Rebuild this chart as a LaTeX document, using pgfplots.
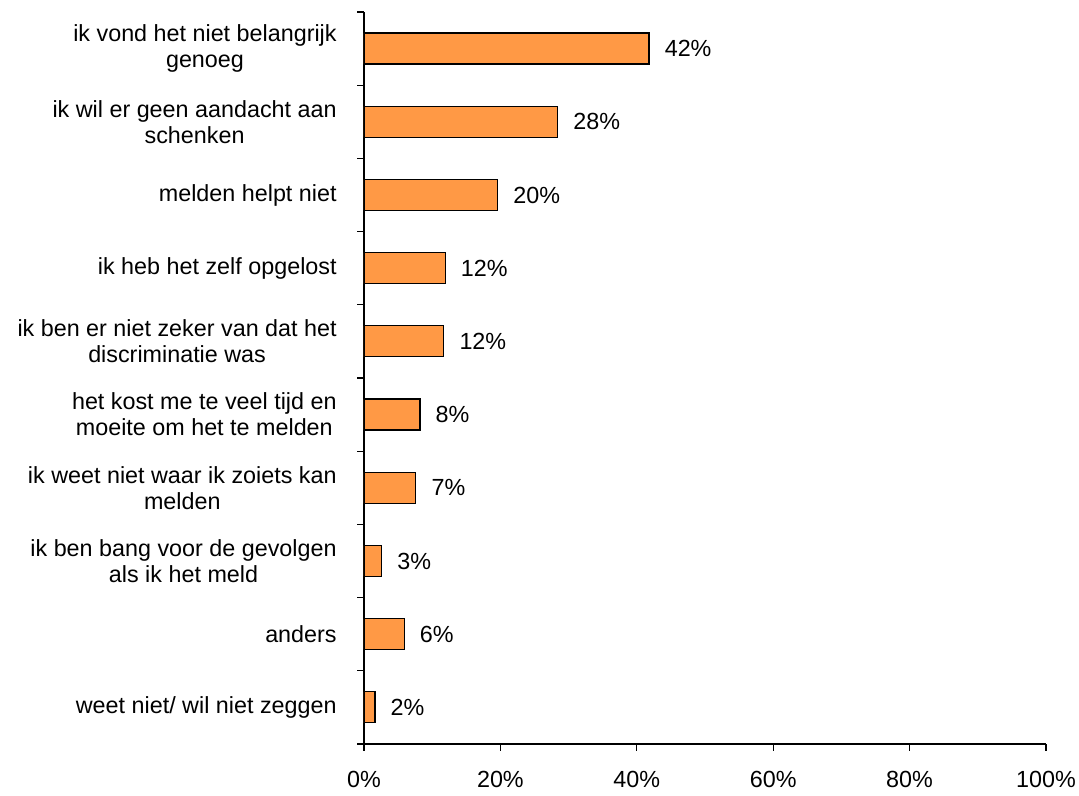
\documentclass[border=0pt]{standalone}
\usepackage{pgfplots}
\pgfplotsset{compat=1.18}
\usepackage{pgfplotstable}
\usepackage{fontspec}
\setmainfont{Liberation Sans}
\definecolor{barorange}{HTML}{FF9945}

% y = 9 is the top category
\pgfplotstableread{
y x lab
9 41.8 42
8 28.4 28
7 19.6 20
6 11.9 12
5 11.7 12
4 8.2 8
3 7.6 7
2 2.6 3
1 5.9 6
0 1.6 2
}\reasons

\begin{document}
\begin{tikzpicture}[font=\fontsize{17.5}{19.5}\selectfont]
\begin{axis}[
    scale only axis,
    width=511.5pt, height=549pt,
    xbar, bar width=23.25pt,
    xmin=0, xmax=100, ymin=-0.5, ymax=9.5,
    axis lines*=left,
    axis line style={line width=0.9pt},
    tick align=outside,
    major tick length=5pt, minor tick length=5pt,
    every tick/.style={black, line width=0.9pt},
    xtick={0,20,40,60,80,100},
    xticklabels={0\%,20\%,40\%,60\%,80\%,100\%},
    xticklabel style={yshift=-12pt},
    ytick={0,...,9},
    yticklabels={
        weet niet/ wil niet zeggen,
        anders,
        {ik ben bang voor de gevolgen\\als ik het meld},
        {ik weet niet waar ik zoiets kan\\melden},
        {het kost me te veel tijd en\\moeite om het te melden},
        {ik ben er niet zeker van dat het\\discriminatie was},
        ik heb het zelf opgelost,
        melden helpt niet,
        {ik wil er geen aandacht aan\\schenken},
        {ik vond het niet belangrijk\\genoeg}},
    yticklabel style={align=center, xshift=-12pt},
    major y tick style={draw=none},
    minor ytick={-0.5,0.5,...,9.5},
    point meta=explicit symbolic,
    nodes near coords={\pgfplotspointmeta\%},
    every node near coord/.append style={anchor=west, xshift=8pt, black},
]
\addplot[draw=black, line width=0.9pt, fill=barorange]
    table[x=x, y=y, meta=lab] {\reasons};
\end{axis}
\pgfresetboundingbox
\path ([shift={(-273pt,-39pt)}]current axis.south west)
    rectangle ([shift={(24.75pt,9pt)}]current axis.north east);
\end{tikzpicture}
\end{document}
